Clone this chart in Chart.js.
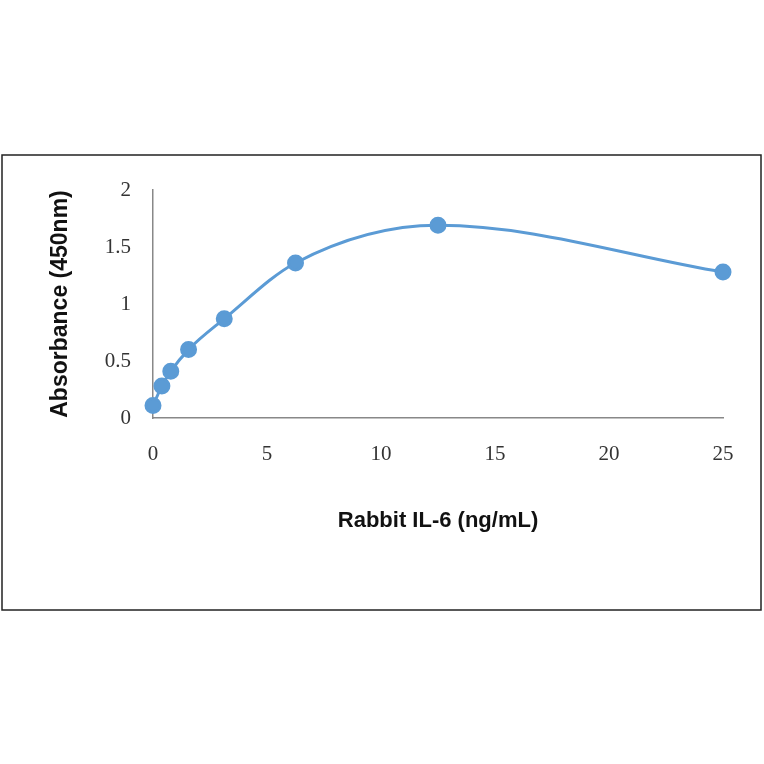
<!DOCTYPE html>
<html><head><style>body{margin:0;background:#fff}</style></head>
<body>
<div style="width:764px;height:764px"><canvas id="c" width="764" height="764"></canvas></div>
<script src="https://cdn.jsdelivr.net/npm/chart.js@4"></script>
<script>
// concentration (ng/mL) and absorbance
const concentrations = [0, 0.39, 0.78, 1.56, 3.125, 6.25, 12.5, 25];
const absorbance = [0.11, 0.28, 0.41, 0.60, 0.87, 1.36, 1.69, 1.28];

const frame = {
  id: 'frame',
  beforeDraw(chart) {
    const c = chart.ctx;
    c.save();
    c.strokeStyle = '#222';
    c.lineWidth = 1.5;
    c.strokeRect(2, 155, 759, 455);
    c.restore();
  }
};

new Chart(document.getElementById('c'), {
  type: 'scatter',
  data: {
    datasets: [{
      data: concentrations.map((x, i) => ({x: x, y: absorbance[i]})),
      showLine: true,
      clip: false,
      cubicInterpolationMode: 'monotone',
      borderColor: '#5b9bd5',
      backgroundColor: '#5b9bd5',
      borderWidth: 3,
      pointRadius: 7,
      pointHoverRadius: 7
    }]
  },
  options: {
    responsive: false,
    animation: false,
    layout: {padding: {left: 0, right: 41, top: 190, bottom: 226}},
    plugins: {legend: {display: false}, tooltip: {enabled: false}},
    scales: {
      x: {
        type: 'linear', min: 0, max: 25,
        grid: {display: false, drawTicks: false},
        border: {color: '#888', width: 1.5},
        ticks: {stepSize: 5, padding: 24, color: '#333', font: {family: 'Liberation Serif', size: 21}},
        title: {display: true, text: 'Rabbit IL-6 (ng/mL)', color: '#111', padding: {top: 40},
                font: {family: 'Liberation Sans', size: 22, weight: 'bold'}},
        afterFit(s) { s.height = 120; }
      },
      y: {
        min: 0, max: 2,
        grid: {display: false, drawTicks: false},
        border: {color: '#888', width: 1.5},
        ticks: {stepSize: 0.5, padding: 22, color: '#333', font: {family: 'Liberation Serif', size: 21},
                callback: v => String(v)},
        title: {display: true, text: 'Absorbance (450nm)', color: '#111', padding: {top: 47, bottom: 0},
                font: {family: 'Liberation Sans', size: 23, weight: 'bold'}},
        afterFit(s) { s.width = 153; }
      }
    }
  },
  plugins: [frame]
});
</script>
</body></html>
